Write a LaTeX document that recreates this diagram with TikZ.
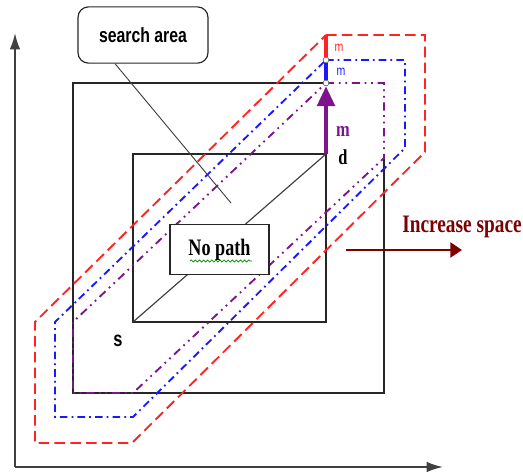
\documentclass[tikz,border=0pt]{standalone}
\usepackage{fontspec}
\setmainfont{Liberation Serif}
\setsansfont{Liberation Sans}
\usepackage{graphicx}
\usetikzlibrary{arrows.meta, decorations.pathmorphing}

\definecolor{redline}{RGB}{255,35,35}
\definecolor{blueline}{RGB}{25,25,255}
\definecolor{purpleline}{RGB}{125,20,140}
\definecolor{darkmaroon}{RGB}{125,0,0}

% text in the reference is a little stretched upwards
\newcommand{\tall}[1]{\scalebox{1}[1.3]{#1}}

\begin{document}
\begin{tikzpicture}[
    x=0.03cm, y=-0.03cm,
    % Style definitions
    axis/.style={
        draw=black!75, line width=1.6pt,
        -{Latex[length=14pt, width=9pt]}
    },
    square/.style={draw=black!85, line width=1pt},
    redpath/.style={
        draw=redline, line width=1.6pt,
        dash pattern=on 9pt off 4.5pt
    },
    bluepath/.style={
        draw=blueline, line width=1.6pt,
        dash pattern=on 6.5pt off 3.5pt on 1.5pt off 3.5pt
    },
    purplepath/.style={
        draw=purpleline, line width=1.6pt,
        dash pattern=on 7pt off 4pt on 1.5pt off 4pt on 1.5pt off 4pt
    },
    callout/.style={
        rectangle, draw=black!85, line width=1pt, rounded corners=9pt,
        minimum width=111pt, minimum height=48pt,
        font=\sffamily\bfseries\fontsize{13.5}{15}\selectfont
    },
    textbox/.style={
        rectangle, draw=black!85, line width=1pt,
        minimum width=84.5pt, minimum height=42pt,
        font=\bfseries\fontsize{15.5}{17}\selectfont
    },
    corner/.style={
        circle, draw=black!60, fill=white, line width=0.6pt,
        inner sep=0pt, minimum size=5pt
    },
    stepline/.style={line width=2.6pt},
    bigm/.style={font=\bfseries\fontsize{14}{16}\selectfont, text=purpleline},
    smallm/.style={font=\sffamily\fontsize{9}{10}\selectfont, inner sep=0pt},
]

\useasboundingbox (0,0) rectangle (523,474);

% === Axes ===
\coordinate (origin) at (15,467);
\coordinate (ytip) at (15,33);
\coordinate (xtip) at (443,467);
\draw[axis] (origin) -- (ytip);
\draw[axis] (origin) -- (xtip);

% === Outer and inner squares ===
\draw[square] (326,83) -- (73,83) -- (73,393) -- (384,393) -- (384,158);
\coordinate (s) at (133,322);
\coordinate (d) at (326,154);
\draw[square] (s) rectangle (d);
\draw[square, draw=black!75] (s) -- (d);

% === Enlarged search paths ===
\draw[purplepath] (326,83) -- (384,83) -- (384,158) -- (133,393)
    -- (73,393) -- (73,322) -- cycle;
\draw[bluepath] (326,60) -- (405,60) -- (405,148) -- (133,417)
    -- (55,417) -- (55,322) -- cycle;
\draw[redpath] (326,35) -- (425,35) -- (425,152) -- (132,443)
    -- (35,443) -- (35,322) -- cycle;

% === Steps m at the top ===
\node[corner] (c1) at (326,83) {};
\node[corner] (c2) at (326,60) {};
\coordinate (c3) at (326,35);
\draw[stepline, draw=blueline] (c1) -- (c2);
\draw[stepline, draw=redline] (c2) -- (c3);
\draw[purpleline, line width=3.4pt,
    -{Triangle[length=17pt, width=15pt]}] (d) -- (c1);

\node[bigm] (mbig) at (343,131) {\tall{m}};
\node[smallm, text=redline] (mred) at (339,48) {\tall{m}};
\node[smallm, text=blueline] (mblue) at (341,72) {\tall{m}};

% === Labels ===
\node[font=\bfseries\fontsize{14}{16}\selectfont] (dlabel) at (343,157) {\tall{d}};
\node[font=\sffamily\bfseries\fontsize{14}{16}\selectfont] (slabel) at (118,341) {\tall{s}};

% === Search area call-out ===
\node[callout] (search) at (143,35) {\tall{search area}};
\coordinate (inarea) at (231,203);
\draw[black!75, line width=0.8pt] (search.south) ++(-28,0) coordinate (foot) -- (inarea);

% === No path box ===
\node[textbox, fill=white] (nopath) at (219.5,249.5) {\tall{No path}};
\draw[green!55!black, line width=0.6pt,
    decorate, decoration={snake, amplitude=0.9pt, segment length=3.5pt}]
    (190,261) -- (252,261);

% === Increase space ===
\node[font=\bfseries\fontsize{16.5}{18}\selectfont, text=darkmaroon] (grow) at (462,227) {\tall{Increase space}};
\coordinate (growstart) at (346,250);
\coordinate (growend) at (462,250);
\draw[darkmaroon, line width=1.6pt, -{Triangle[length=10pt, width=13pt]}] (growstart) -- (growend);

\end{tikzpicture}
\end{document}
